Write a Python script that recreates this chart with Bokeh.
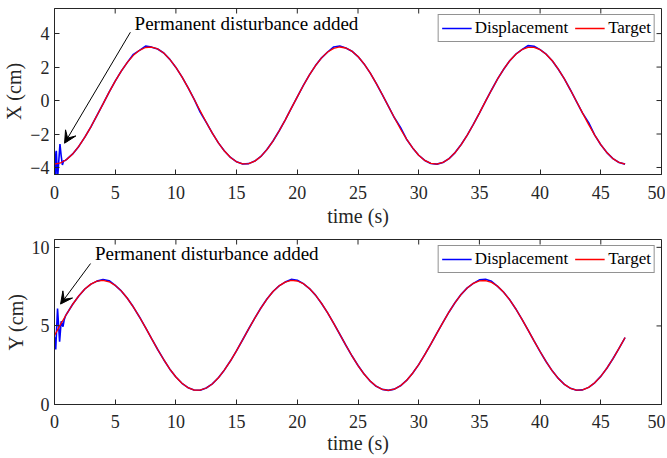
import math
from bokeh.plotting import figure
from bokeh.models import (FixedTicker, Arrow, VeeHead, Legend, LegendItem,
                          ColumnDataSource, Range1d)
from bokeh.layouts import column
from bokeh.embed import file_html
from bokeh.resources import INLINE
from bokeh.core.properties import value

FONT = "Liberation Serif"

# ---- data ----
time = [i * 0.5 for i in range(95)]  # 0 .. 47 s

target_x = [-3.80, -3.73, -3.52, -3.19, -2.74, -2.19, -1.57, -0.89, -0.20, 0.50,
            1.16, 1.76, 2.28, 2.70, 3.00, 3.17, 3.19, 3.08, 2.84, 2.46,
            1.98, 1.41, 0.77, 0.08, -0.61, -1.30, -1.95, -2.53, -3.02, -3.40,
            -3.66, -3.79, -3.77, -3.62, -3.34, -2.93, -2.42, -1.82, -1.17, -0.47,
            0.22, 0.90, 1.53, 2.09, 2.55, 2.90, 3.12, 3.20, 3.14, 2.95,
            2.63, 2.19, 1.65, 1.03, 0.36, -0.34, -1.03, -1.70, -2.31, -2.83,
            -3.27, -3.58, -3.76, -3.80, -3.70, -3.47, -3.11, -2.63, -2.07, -1.43,
            -0.75, -0.05, 0.63, 1.29, 1.87, 2.38, 2.77, 3.04, 3.18, 3.18,
            3.04, 2.77, 2.38, 1.87, 1.29, 0.63, -0.06, -0.75, -1.44, -2.07,
            -2.64, -3.11, -3.47, -3.70, -3.80]

target_y = [4.40, 5.10, 5.76, 6.38, 6.91, 7.35, 7.66, 7.85, 7.90, 7.81,
            7.58, 7.23, 6.76, 6.20, 5.57, 4.89, 4.19, 3.50, 2.85, 2.25,
            1.75, 1.35, 1.07, 0.92, 0.91, 1.05, 1.31, 1.70, 2.20, 2.78,
            3.43, 4.12, 4.82, 5.50, 6.14, 6.71, 7.19, 7.55, 7.79, 7.90,
            7.86, 7.69, 7.38, 6.96, 6.43, 5.83, 5.16, 4.47, 3.77, 3.10,
            2.48, 1.94, 1.49, 1.16, 0.96, 0.90, 0.98, 1.19, 1.53, 1.99,
            2.54, 3.17, 3.84, 4.54, 5.23, 5.89, 6.49, 7.01, 7.42, 7.71,
            7.87, 7.89, 7.77, 7.52, 7.14, 6.66, 6.08, 5.43, 4.75, 4.05,
            3.37, 2.72, 2.14, 1.66, 1.28, 1.03, 0.91, 0.93, 1.09, 1.38,
            1.79, 2.31, 2.91, 3.57, 4.26]

# disturbance at the start of the displacement traces
dist_t_x = [0.0, 0.07, 0.15, 0.25, 0.45, 0.55, 0.65, 0.75, 0.9]
dist_x = [-3.05, -4.6, -3.0, -4.7, -2.6, -3.3, -3.85, -3.6, -3.58]
dist_t_y = [0.0, 0.1, 0.25, 0.42, 0.55, 0.7, 0.8, 0.9]
dist_y = [4.3, 3.5, 6.1, 4.0, 5.3, 4.95, 5.4, 5.62]

# small tracking errors of the displacement (index -> offset)
err_x = {13: 0.06, 15: 0.08, 24: -0.08, 46: 0.08, 47: 0.06, 57: 0.1, 78: 0.1, 79: 0.06, 88: 0.12}
err_y = {8: 0.06, 9: 0.07, 39: 0.06, 40: 0.05, 70: 0.06, 71: 0.08, 72: 0.07}

x_ticks = [0, 5, 10, 15, 20, 25, 30, 35, 40, 45, 50]
y_ticks_top = [-4, -2, 0, 2, 4]
y_ticks_bottom = [0, 5, 10]

note = "Permanent disturbance added"

AX = "#262626"


def build_disp(dist_t, dist_v, target, err):
    t = list(dist_t) + time[2:]
    v = list(dist_v) + [target[i] + err.get(i, 0.0) for i in range(2, len(target))]
    return t, v


def make_fig(height, yr, yticks, ylabel, top_border, bottom_border, tick_sd, label_sd):
    p = figure(width=665, height=height, output_backend="svg", toolbar_location=None,
               x_range=Range1d(0, 50), y_range=Range1d(*yr),
               min_border_left=47, min_border_right=4,
               min_border_top=top_border, min_border_bottom=bottom_border)
    p.xgrid.visible = False
    p.ygrid.visible = False
    p.outline_line_color = AX
    p.outline_line_width = 1
    p.outline_line_alpha = 1.0
    for ax in (p.xaxis[0], p.yaxis[0]):
        ax.major_tick_in = 5
        ax.major_tick_out = 0
        ax.minor_tick_line_color = None
        ax.axis_line_color = AX
        ax.major_tick_line_color = AX
        ax.major_label_text_font = FONT
        ax.major_label_text_font_size = "18px"
        ax.major_label_text_color = AX
        ax.axis_label_text_font = FONT
        ax.axis_label_text_font_size = "20px"
        ax.axis_label_text_font_style = "normal"
        ax.axis_label_text_color = AX
    p.xaxis[0].ticker = FixedTicker(ticks=x_ticks)
    p.yaxis[0].ticker = FixedTicker(ticks=yticks)
    p.xaxis[0].axis_label = "time (s)"
    p.yaxis[0].axis_label = ylabel
    p.xaxis[0].major_label_standoff = tick_sd
    p.xaxis[0].axis_label_standoff = label_sd
    p.yaxis[0].major_label_standoff = 5
    p.yaxis[0].axis_label_standoff = 2
    # box ticks on top and right edges (drawn inward)
    p.ray(x=x_ticks, y=[yr[1]] * len(x_ticks), length=5, length_units="screen",
          angle=-math.pi / 2, line_color=AX, line_width=1)
    p.ray(x=[50] * len(yticks), y=yticks, length=5, length_units="screen",
          angle=math.pi, line_color=AX, line_width=1)
    return p


def add_series(p, target, dist_t, dist_v, err, note_x, note_y, arrow):
    dt, dv = build_disp(dist_t, dist_v, target, err)
    r_d = p.line(dt, dv, line_color="#0000FF", line_width=1.6)
    r_t = p.line(time, target, line_color="#FF0000", line_width=1.3)
    legend = Legend(items=[LegendItem(label="Displacement", renderers=[r_d]),
                           LegendItem(label="Target", renderers=[r_t])],
                    orientation="horizontal", location="top_right",
                    label_text_font=FONT, label_text_font_size="17px", label_text_color="black",
                    glyph_width=30, glyph_height=18, label_standoff=3, spacing=7,
                    padding=3, margin=6, border_line_color=AX, border_line_width=1,
                    background_fill_color="white", background_fill_alpha=1.0,
                    label_height=18)
    p.add_layout(legend, "center")
    src = ColumnDataSource(dict(x=[note_x], y=[note_y], t=[note]))
    p.text("x", "y", "t", source=src, text_font=value(FONT), text_font_size="19px",
           text_align="left", text_baseline="middle", text_color="black")
    p.add_layout(Arrow(end=VeeHead(size=12, fill_color="black", line_color="black"),
                       x_start=arrow[0], y_start=arrow[1], x_end=arrow[2], y_end=arrow[3],
                       line_color="black", line_width=1))


p1 = make_fig(229, (-4.42, 5.5), y_ticks_top, "X (cm)", 8, 55, 11, 3)
add_series(p1, target_x, dist_t_x, dist_x, err_x, 6.6, 4.6, (6.25, 4.08, 0.83, -2.55))

p2 = make_fig(227, (0, 10.5), y_ticks_bottom, "Y (cm)", 10, 51, 10, 1)
add_series(p2, target_y, dist_t_y, dist_y, err_y, 3.33, 9.6, (2.97, 8.97, 0.5, 6.39))

layout = column(p1, p2, spacing=0)
open("out.html", "w").write(file_html(layout, INLINE))
